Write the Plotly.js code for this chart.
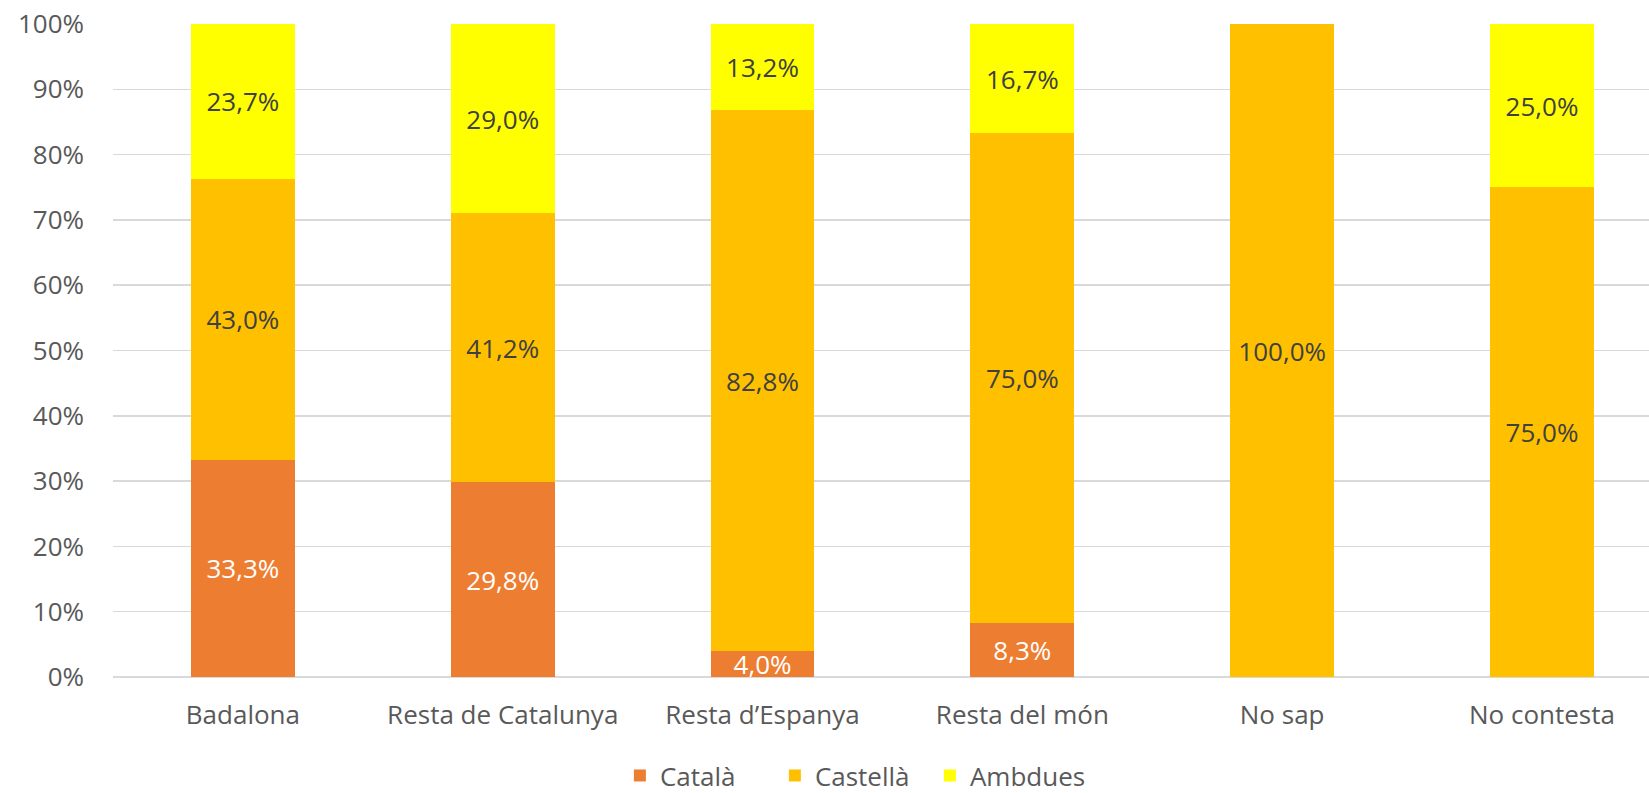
<!DOCTYPE html>
<html>
<head>
<meta charset="utf-8">
<script src="https://cdn.plot.ly/plotly-3.0.1.min.js"></script>
<style>html,body{margin:0;padding:0;background:#fff;overflow:hidden;}#chart{width:1649px;height:793px;}</style>
</head>
<body>
<div id="chart"></div>
<script>
const categories = ["Badalona", "Resta de Catalunya", "Resta d\u2019Espanya", "Resta del món", "No sap", "No contesta"];
const seriesNames = ["Català", "Castellà", "Ambdues"];
const catala = [33.3, 29.8, 4.0, 8.3, 0, 0];
const castella = [43.0, 41.2, 82.8, 75.0, 100.0, 75.0];
const ambdues = [23.7, 29.0, 13.2, 16.7, 0, 25.0];
const yTicks = [0, 10, 20, 30, 40, 50, 60, 70, 80, 90, 100];

const colors = ["#ED7D31", "#FFC000", "#FFFF00"];
const textColors = ["#FFFFFF", "#404040", "#404040"];
const FONT = "Open Sans, Noto Sans, sans-serif";

function labels(arr) {
  return arr.map(v => v > 0 ? v.toFixed(1).replace('.', ',') + '%' : '');
}

const series = [catala, castella, ambdues];
const traces = series.map((vals, i) => ({
  type: 'bar',
  name: seriesNames[i],
  x: categories,
  y: vals,
  text: labels(vals),
  textposition: 'inside',
  insidetextanchor: 'middle',
  constraintext: 'none',
  textangle: 0,
  textfont: {family: FONT, size: 26, color: textColors[i]},
  marker: {color: colors[i], line: {width: 0}},
  hoverinfo: 'none'
}));

const layout = {
  width: 1649,
  height: 793,
  margin: {l: 113, r: 0, t: 24, b: 116},
  paper_bgcolor: '#ffffff',
  plot_bgcolor: '#ffffff',
  barmode: 'stack',
  bargap: 0.6,
  showlegend: true,
  font: {family: FONT, color: '#595959', size: 26},
  xaxis: {
    type: 'category',
    range: [-0.5, 5.412],
    showgrid: false,
    showline: false,
    zeroline: false,
    ticks: '',
    ticklabelstandoff: 20,
    tickfont: {family: FONT, size: 26, color: '#595959'}
  },
  yaxis: {
    range: [0, 100],
    tickvals: yTicks,
    ticktext: yTicks.map(v => v + '%'),
    showgrid: true,
    gridcolor: '#D9D9D9',
    gridwidth: 1.5,
    zeroline: true,
    zerolinecolor: '#D9D9D9',
    zerolinewidth: 1.5,
    showline: false,
    ticks: '',
    ticklabelstandoff: 28,
    tickfont: {family: FONT, size: 26, color: '#595959'}
  },
  legend: {
    orientation: 'h',
    x: 0.33,
    xanchor: 'left',
    yref: 'container',
    y: 0.022,
    yanchor: 'middle',
    font: {family: FONT, size: 26, color: '#595959'},
    traceorder: 'normal',
    itemwidth: 30,
    entrywidthmode: 'pixels',
    entrywidth: 110
  }
};

Plotly.newPlot('chart', traces, layout, {staticPlot: true, displayModeBar: false});
</script>
</body>
</html>
